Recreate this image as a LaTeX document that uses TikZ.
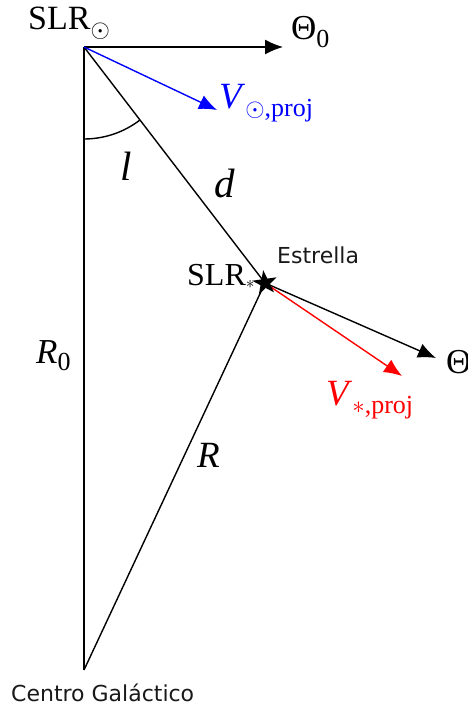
\documentclass[tikz,border=0pt]{standalone}
\usepackage{fontspec}
\setmainfont{Liberation Serif}
\newfontfamily\labelfont{DejaVu Sans}
\usetikzlibrary{arrows.meta,shapes.geometric}
\newcommand{\sbs}[1]{\raisebox{-0.22em}{\fontsize{26}{30}\selectfont #1}}
\tikzset{
  seg/.style={line width=1.4pt, black},
  vec/.style={line width=1.4pt, -{Latex[length=18pt,width=15pt]}},
  mlab/.style={inner sep=0pt, anchor=base west, font=\fontsize{35}{40}\selectfont},
  slab/.style={inner sep=0pt, anchor=base west, font=\labelfont\fontsize{22}{26}\selectfont, text=black!90},
}
\begin{document}
\begin{tikzpicture}[x=1pt,y=-1pt]
\useasboundingbox (0,0) rectangle (468,709);
% points
\coordinate (sun) at (84,47);
\coordinate (gc) at (84,670);
\coordinate (star) at (265,283);
\coordinate (t0) at (283,47);
\coordinate (vsun) at (217,110);
\coordinate (th) at (436,358);
\coordinate (vstar) at (402,376);
% triangle
\draw[seg] (sun) -- (gc);
\draw[seg] (sun) -- (star);
\draw[seg] (star) -- (gc);
% angle arc
\draw[seg] (84,139) arc[start angle=270, end angle=307.6, radius=92pt];
% vectors
\draw[vec] (sun) -- (t0);
\draw[vec, blue] (sun) -- (vsun);
\draw[vec] (star) -- (th);
\draw[vec, red] (star) -- (vstar);
% star
\node[star, star points=5, star point ratio=2.6, fill=black, minimum size=26pt, inner sep=0pt, rotate=8] (starmark) at (star) {};
% labels
\node[mlab, font=\fontsize{34}{38}\selectfont] (slrsun) at (28,30) {SLR\sbs{$\odot$}};
\node[mlab] (th0) at (291,40) {Θ\sbs{0}};
\node[mlab, text=blue, font=\fontsize{37}{42}\selectfont] (vsunl) at (219,108) {\textit{V}\sbs{$\odot$,proj}};
\node[mlab, font=\fontsize{41}{46}\selectfont] (ell) at (120,180) {\textit{l}};
\node[mlab, font=\fontsize{41}{46}\selectfont] (dl) at (214,197) {\textit{d}};
\node[mlab, font=\fontsize{32}{36}\selectfont] (slrstar) at (187,285) {SLR\raisebox{-0.1em}{\fontsize{17}{20}\selectfont$*$}};
\node[slab] (estr) at (277,263) {Estrella};
\node[mlab] (thl) at (446,373) {Θ};
\node[mlab, text=red, font=\fontsize{37}{42}\selectfont] (vstarl) at (326,405) {\textit{V}\sbs{$*$,proj}};
\node[mlab] (r0) at (36,363) {\textit{R}\sbs{0}};
\node[mlab, font=\fontsize{37}{42}\selectfont] (rl) at (197,467) {\textit{R}};
\node[slab] (gcl) at (11,701) {Centro Galáctico};
\end{tikzpicture}
\end{document}
